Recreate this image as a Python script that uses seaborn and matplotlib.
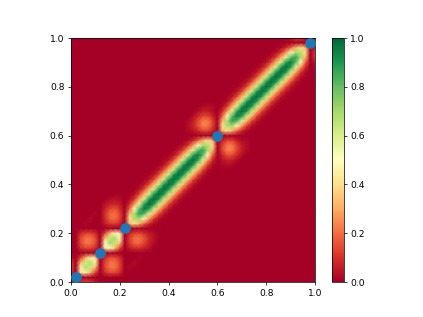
import numpy as np
import matplotlib
matplotlib.use('Agg')
import matplotlib.pyplot as plt
import seaborn as sns

# values on a 0.02 grid, stored by distance from the diagonal
diag_0 = [.10, 0, .42, .68, .68, .42, 0, .44, .70, .70,
          .44, 0, .32, .68, .88, .97, 1, 1, 1, 1,
          1, 1, 1, 1, 1, 1, .97, .88, .68, .32,
          0, .32, .68, .88, .97, 1, 1, 1, 1, 1,
          1, 1, 1, 1, 1, .97, .88, .68, .32, 0, .10]
diag_1 = [0, 0, .46, .62, .46, 0, 0, .49, .64, .49,
          0, 0, .41, .68, .81, .88, .90, .90, .90, .90,
          .90, .90, .90, .90, .90, .88, .81, .68, .41, 0,
          0, .41, .68, .81, .88, .90, .90, .90, .90, .90,
          .90, .90, .90, .90, .88, .81, .68, .41, 0, 0]
diag_2 = [.12, 0, .32, .32, 0, .09, 0, .34, .34, 0,
          .08, 0, .32, .50, .57, .60, .61, .61, .61, .61,
          .61, .61, .61, .61, .60, .57, .50, .32, 0, .07,
          0, .32, .50, .57, .60, .61, .61, .61, .61, .61,
          .61, .61, .61, .60, .57, .50, .32, 0, .06]
diag_3 = [.14, 0, .13, 0, .13, .15, 0, .14, 0, .12,
          .13, 0, .18, .27, .31, .33, .33, .33, .33, .33,
          .33, .33, .33, .33, .31, .27, .18, 0, .13, .13,
          0, .18, .27, .31, .33, .33, .33, .33, .33, .33,
          .33, .33, .33, .31, .27, .18, 0, .12]
diag_4 = [.12, 0, 0, .13, .21, .15, 0, 0, .11, .20,
          .14, 0, .08, .11, .13, .14, .14, .14, .14, .14,
          .14, .14, .14, .13, .11, .08, 0, .13, .22, .13,
          0, .08, .11, .13, .14, .14, .14, .14, .14, .14,
          .14, .14, .13, .11, .08, 0, .12]
diag_5 = [.05, 0, .09, .21, .21, .09, 0, .06, .18, .21,
          .10, 0, .02, .03, .04, .04, .04, .04, .04, .04,
          .04, .04, .04, .03, .02, 0, .08, .23, .22, .07,
          0, .02, .03, .04, .04, .04, .04, .04, .04, .04,
          .04, .04, .03, .02, 0, .05]
diag_6 = [0, 0, .14, .21, .13, 0, 0, .09, .19, .16,
          .06, 0, .01, .01, .01, .01, .01, .01, .01, .01,
          .01, .01, .01, .01, 0, .04, .15, .22, .13, .03,
          0, .01, .01, .01, .01, .01, .01, .01, .01, .01,
          .01, .01, .01, 0, .02]
diag_7 = [0, 0, .14, .13, 0, 0, 0, .10, .13, .08,
          .03, 0, 0, 0, 0, 0, 0, 0, 0, 0,
          0, 0, 0, 0, .02, .07, .14, .13, .06, .02]
diag_8 = [0, 0, .09, 0, 0, 0, 0, .07, .07, .04,
          .01, 0, 0, 0, 0, 0, 0, 0, 0, 0,
          0, 0, 0, 0, .03, .06, .08, .06, .03]
diag_9 = [0, 0, 0, .02, .03, .02, 0, .04, .03, 0,
          0, 0, 0, 0, 0, 0, 0, 0, 0, 0,
          0, 0, 0, 0, .02, .03, .03, .02]
bands = [diag_0, diag_1, diag_2, diag_3, diag_4, diag_5, diag_6, diag_7, diag_8, diag_9]

point_x = [0.02, 0.12, 0.22, 0.60, 0.98]
point_y = [0.02, 0.12, 0.22, 0.60, 0.98]
tick_values = [0.0, 0.2, 0.4, 0.6, 0.8, 1.0]
tick_labels = ['0.0', '0.2', '0.4', '0.6', '0.8', '1.0']

grid_step = 0.02
grid_size = len(diag_0)


def build_grid():
    grid = np.zeros((grid_size, grid_size))
    for offset, band in enumerate(bands):
        for i, value in enumerate(band):
            grid[i, i + offset] = value
            grid[i + offset, i] = value
    return grid


def main():
    fig, ax = plt.subplots(figsize=(6.4, 4.8), dpi=66.1)

    sns.heatmap(build_grid(), cmap='RdYlGn', vmin=0, vmax=1, square=True, shading='gouraud',
                xticklabels=False, yticklabels=False, ax=ax)

    sns.scatterplot(x=np.array(point_x) / grid_step, y=np.array(point_y) / grid_step,
                    s=135, color='#1f77b4', linewidth=0, zorder=3, ax=ax)

    ax.set_xlim(0, grid_size - 1)
    ax.set_ylim(0, grid_size - 1)
    ticks = np.array(tick_values) / grid_step
    ax.set_xticks(ticks, tick_labels, rotation=0)
    ax.set_yticks(ticks, tick_labels, rotation=0)
    for spine in ax.spines.values():
        spine.set_visible(True)

    cbar = ax.collections[0].colorbar
    cbar.outline.set_linewidth(0.8)

    fig.savefig('out.png')


if __name__ == '__main__':
    main()
